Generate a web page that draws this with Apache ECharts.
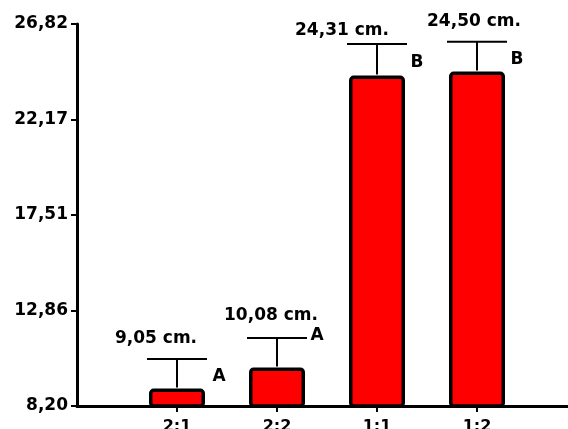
<!DOCTYPE html>
<html><head><meta charset="utf-8">
<script src="https://cdn.jsdelivr.net/npm/echarts@6/dist/echarts.min.js"></script>
<style>html,body{margin:0;padding:0;background:#fff}#chart{width:568px;height:429px}</style>
</head><body><div id="chart"></div>
<script>
// Plant height by treatment ratio (mean, upper error, significance group)
const categories = ['2:1', '2:2', '1:1', '1:2'];
const means = [9.05, 10.08, 24.31, 24.50];
const errors = [1.44, 1.43, 1.53, 1.45];
const groups = ['A', 'A', 'B', 'B'];
const yTicks = [8.20, 12.86, 17.51, 22.17, 26.82];

// label placement tweaks (pixels, relative to the error-bar cap)
const valueLabelShift = [[-21, -20], [-6, -23], [-35, -14], [-3, -20]];
const groupLabelShift = [[42, 18], [40, -3], [40, 18], [40, 18]];

const FONT = 'DejaVu Sans';
const fmt = v => v.toFixed(2).replace('.', ',');
const positions = categories.map((c, i) => i + 1);

const chart = echarts.init(document.getElementById('chart'));
chart.setOption({
  animation: false,
  grid: { left: 77, right: 0, top: 24, bottom: 23, containLabel: false, outerBoundsMode: 'none' },
  xAxis: {
    type: 'value', min: 0, max: 4.91,
    splitLine: { show: false },
    axisLine: { show: true, lineStyle: { color: '#000', width: 3 } },
    axisTick: { show: true, customValues: positions, length: 6, lineStyle: { color: '#000', width: 2 } },
    axisLabel: {
      customValues: positions, margin: 13,
      formatter: v => categories[Math.round(v) - 1] || '',
      color: '#000', fontFamily: FONT, fontWeight: 'bold', fontSize: 16
    }
  },
  yAxis: {
    type: 'value', min: yTicks[0], max: yTicks[yTicks.length - 1],
    splitLine: { show: false },
    axisLine: { show: true, lineStyle: { color: '#000', width: 3 } },
    axisTick: { show: true, customValues: yTicks, length: 6, lineStyle: { color: '#000', width: 2 } },
    axisLabel: {
      customValues: yTicks, margin: 9, formatter: v => fmt(v),
      color: '#000', fontFamily: FONT, fontWeight: 'bold', fontSize: 17
    }
  },
  series: [
    {
      type: 'bar', barWidth: 56, clip: true,
      data: positions.map((x, i) => [x, means[i]]),
      itemStyle: { color: '#ff0000', borderColor: '#000', borderWidth: 3.5, borderRadius: 3 }
    },
    {
      type: 'custom', z: 5,
      data: positions.map((x, i) => [x, means[i], errors[i]]),
      renderItem(params, api) {
        const i = params.dataIndex;
        const x = api.value(0), m = api.value(1), e = api.value(2);
        const top = api.coord([x, m]);
        const cap = api.coord([x, m + e]);
        const half = 30;
        const lineStyle = { stroke: '#000', lineWidth: 2 };
        return {
          type: 'group',
          children: [
            { type: 'line', shape: { x1: top[0], y1: top[1] - 1, x2: cap[0], y2: cap[1] }, style: lineStyle },
            { type: 'line', shape: { x1: cap[0] - half, y1: cap[1], x2: cap[0] + half, y2: cap[1] }, style: lineStyle },
            {
              type: 'text',
              style: {
                text: fmt(m) + ' cm.',
                x: cap[0] + valueLabelShift[i][0], y: cap[1] + valueLabelShift[i][1],
                textAlign: 'center', textVerticalAlign: 'middle',
                fill: '#000', font: 'bold 17px "' + FONT + '"'
              }
            },
            {
              type: 'text',
              style: {
                text: groups[i],
                x: cap[0] + groupLabelShift[i][0], y: cap[1] + groupLabelShift[i][1],
                textAlign: 'center', textVerticalAlign: 'middle',
                fill: '#000', font: 'bold 17px "' + FONT + '"'
              }
            }
          ]
        };
      }
    }
  ]
});
</script>
</body></html>
